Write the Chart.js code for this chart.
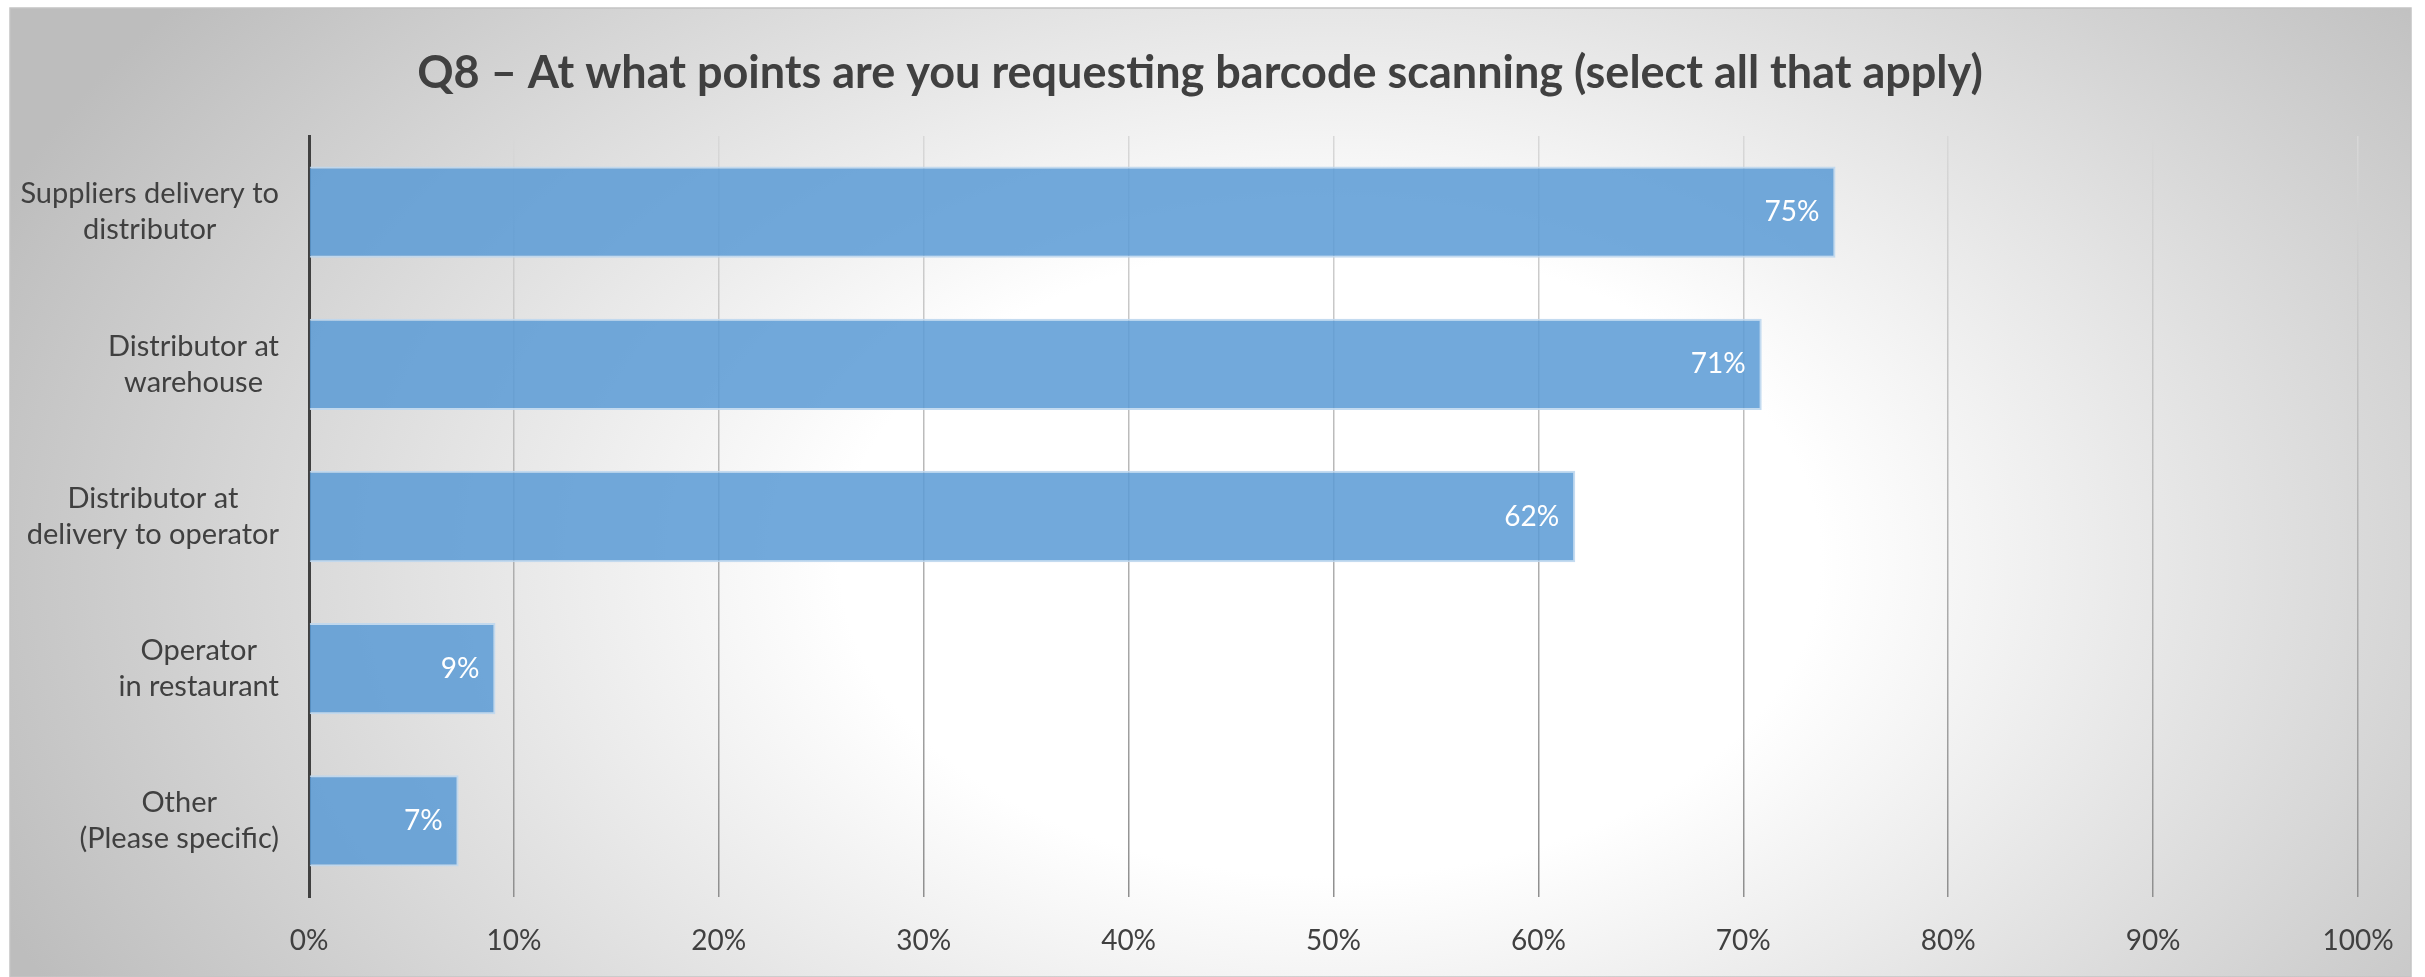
<!DOCTYPE html>
<html>
<head>
<meta charset="utf-8">
<title>Q8 – barcode scanning</title>
<script src="https://cdn.jsdelivr.net/npm/chart.js@4.4.1/dist/chart.umd.min.js"></script>
<style>
  html, body { margin: 0; padding: 0; background: #fff; }
  canvas { display: block; }
</style>
</head>
<body>
<canvas id="scanChart" width="2425" height="977"></canvas>
<script>
// --- data ---
const titleText = 'Q8 – At what points are you requesting barcode scanning (select all that apply)';
const categories = [
    ['Suppliers delivery to', 'distributor'],
    ['Distributor at', 'warehouse'],
    ['Distributor at', 'delivery to operator'],
    ['Operator', 'in restaurant'],
    ['Other', '(Please specific)']
];
const sharePercent = [74.5, 70.9, 61.8, 9.1, 7.3];
const axisMin = 0;
const axisMax = 100;
const axisStep = 10;

const TEXT_COLOR = '#404040';
const FONT_FAMILY = 'Lato, "Open Sans", sans-serif';
Chart.defaults.font.family = FONT_FAMILY;

// grey radial backdrop with a thin frame, painted before anything else
const backdrop = {
    id: 'backdrop',
    beforeDraw(chart) {
        const { ctx, width, height } = chart;
        const x0 = 10, y0 = 8, w = width - 24, h = height - 8;
        ctx.save();
        ctx.fillStyle = '#fff';
        ctx.fillRect(0, 0, width, height);
        // stretch a circular gradient into an ellipse
        ctx.translate(1330, 560);
        ctx.scale(1.55, 1);
        const g = ctx.createRadialGradient(0, 0, 0, 0, 0, 930);
        g.addColorStop(0, '#ffffff');
        g.addColorStop(0.34, '#ffffff');
        g.addColorStop(1, '#bdbdbd');
        ctx.fillStyle = g;
        ctx.fillRect((x0 - 1330) / 1.55, y0 - 560, w / 1.55, h);
        ctx.restore();
        ctx.save();
        ctx.strokeStyle = '#c4c4c4';
        ctx.lineWidth = 1.5;
        ctx.strokeRect(x0, y0, w, h);
        ctx.restore();
    }
};

// two-line category names, each line centred within a right-aligned block
const categoryNames = {
    id: 'categoryNames',
    afterDraw(chart) {
        const { ctx } = chart;
        const yScale = chart.scales.y;
        const right = yScale.right - 30;
        ctx.save();
        ctx.font = '29px ' + FONT_FAMILY;
        ctx.fillStyle = TEXT_COLOR;
        ctx.textAlign = 'center';
        ctx.textBaseline = 'middle';
        categories.forEach((lines, i) => {
            const cy = yScale.getPixelForValue(i);
            const blockWidth = Math.max(...lines.map(l => ctx.measureText(l).width));
            const cx = right - blockWidth / 2;
            lines.forEach((line, j) => {
                ctx.fillText(line, cx, cy + (j - (lines.length - 1) / 2) * 36);
            });
        });
        ctx.restore();
    }
};

// white value labels at the inner end of each bar
const valueLabels = {
    id: 'valueLabels',
    afterDatasetsDraw(chart) {
        const { ctx } = chart;
        const meta = chart.getDatasetMeta(0);
        ctx.save();
        ctx.font = '28px ' + FONT_FAMILY;
        ctx.fillStyle = '#ffffff';
        ctx.textAlign = 'right';
        ctx.textBaseline = 'middle';
        meta.data.forEach((bar, i) => {
            ctx.fillText(Math.round(sharePercent[i]) + '%', bar.x - 16, bar.y);
        });
        ctx.restore();
    }
};

function gridGradient(context) {
    const chart = context.chart;
    const area = chart.chartArea;
    if (!area) return '#c0c0c0';
    const g = chart.ctx.createLinearGradient(0, area.top, 0, area.bottom);
    g.addColorStop(0, '#d8d8d8');
    g.addColorStop(1, '#8f8f8f');
    return g;
}

new Chart(document.getElementById('scanChart'), {
    type: 'bar',
    data: {
        labels: categories,
        datasets: [{
            data: sharePercent,
            backgroundColor: 'rgba(91, 155, 213, 0.86)',
            borderColor: 'rgba(190, 215, 238, 0.9)',
            borderWidth: 2,
            categoryPercentage: 1,
            barPercentage: 0.6
        }]
    },
    options: {
        indexAxis: 'y',
        responsive: false,
        animation: false,
        events: [],
        // left/right padding kept equal-ish so the title sits over the frame centre
        layout: { padding: { top: 10, left: 42, right: 67, bottom: 0 } },
        plugins: {
            legend: { display: false },
            tooltip: { enabled: false },
            title: {
                display: true,
                text: titleText,
                color: TEXT_COLOR,
                font: { size: 45, weight: 'bold' },
                padding: { top: 36, bottom: 36 }
            }
        },
        scales: {
            x: {
                min: axisMin,
                max: axisMax,
                ticks: {
                    stepSize: axisStep,
                    padding: 27,
                    color: TEXT_COLOR,
                    font: { size: 28 },
                    callback: v => v + '%'
                },
                grid: { color: gridGradient, lineWidth: 1.5, drawTicks: false },
                border: { display: false },
                afterFit: s => { s.height = 80; }
            },
            y: {
                ticks: { display: false },
                grid: { display: false },
                border: { display: true, color: '#404040', width: 3 },
                afterFit: s => { s.width = 267; }
            }
        }
    },
    plugins: [backdrop, categoryNames, valueLabels]
});
</script>
</body>
</html>
